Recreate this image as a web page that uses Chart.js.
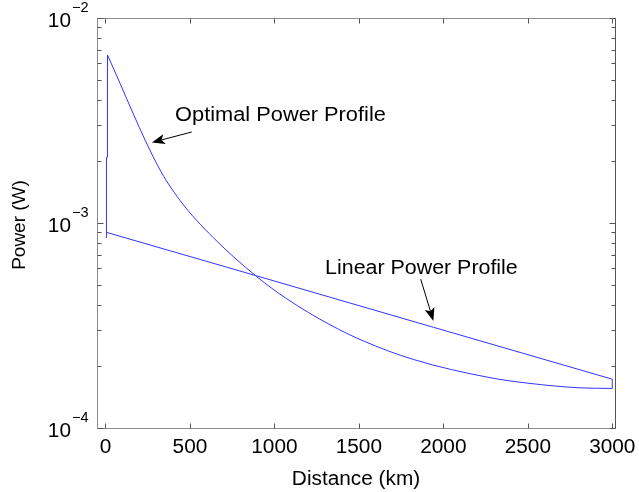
<!DOCTYPE html>
<html>
<head>
<meta charset="utf-8">
<script src="https://cdn.jsdelivr.net/npm/chart.js@4.4.1/dist/chart.umd.min.js"></script>
<style>
  body { margin: 0; background: #fff; }
  #chart { display: block; }
</style>
</head>
<body>
<canvas id="chart" width="639" height="492"></canvas>
<script>
// values (distance in km, power in W)
// optimal profile: launch steps at the start, then the smooth decay
var launch_dist = [6, 6, 12, 12];
var launch_power = [8.45e-4, 2.09e-3, 2.09e-3, 6.60e-3];

var optimal_dist = [12, 313, 441, 638, 895, 1073, 1329, 1526, 1822, 2276, 2513, 2809, 3000];
var optimal_power = [6.60e-3, 1.88e-3, 1.29e-3, 8.49e-4, 5.48e-4, 4.27e-4, 3.19e-4, 2.66e-4, 2.16e-4, 1.76e-4, 1.65e-4, 1.57e-4, 1.56e-4];

var end_dist = [3000, 3000];
var end_power = [1.56e-4, 1.73e-4];

var linear_dist = [7, 896, 1941, 3000];
var linear_power = [9.0e-4, 5.52e-4, 3.10e-4, 1.73e-4];

var x_ticks = [0, 500, 1000, 1500, 2000, 2500, 3000];
var y_decades = [-4, -3, -2];
var y_minor = [2, 3, 4, 5, 6, 7, 8, 9];

var FONT = '"Liberation Sans", Arial, Helvetica, sans-serif';
var LINE_BLUE = '#3333ff';

function toPoints(xs, ys) {
    var pts = [];
    for (var i = 0; i < xs.length; i++) {
        pts.push({ x: xs[i], y: ys[i] });
    }
    return pts;
}

function stretchedText(ctx, str, x, y, size, align, sx) {
    ctx.save();
    ctx.font = size + 'px ' + FONT;
    ctx.textAlign = align;
    ctx.textBaseline = 'alphabetic';
    ctx.translate(x, y);
    ctx.scale(sx || 1, 1);
    ctx.fillText(str, 0, 0);
    ctx.restore();
}

function arrow(ctx, x1, y1, x2, y2) {
    var ang = Math.atan2(y2 - y1, x2 - x1);
    var len = 13, half = 5, notch = 3;
    ctx.save();
    ctx.strokeStyle = '#000';
    ctx.fillStyle = '#000';
    ctx.lineWidth = 1;
    ctx.beginPath();
    ctx.moveTo(x1, y1);
    ctx.lineTo(x2 - Math.cos(ang) * (len - notch), y2 - Math.sin(ang) * (len - notch));
    ctx.stroke();
    ctx.translate(x2, y2);
    ctx.rotate(ang);
    ctx.beginPath();
    ctx.moveTo(0, 0);
    ctx.lineTo(-len, -half);
    ctx.lineTo(-len + notch, 0);
    ctx.lineTo(-len, half);
    ctx.closePath();
    ctx.fill();
    ctx.restore();
}

// labels with arrows, anchored in data coordinates
var notes = [
    { text: 'Optimal Power Profile', tx: 412, ty: 3.16e-3, ax: 511, ay: 2.78e-3, px: 275, py: 2.47e-3, sx: 1.09 },
    { text: 'Linear Power Profile', tx: 1300, ty: 5.67e-4, ax: 1866, ay: 5.32e-4, px: 1941, py: 3.33e-4, sx: 1.07 }
];

var axesPlugin = {
    id: 'matlabAxes',
    afterDraw: function (chart) {
        var ctx = chart.ctx;
        var a = chart.chartArea;
        var xs = chart.scales.x;
        var ys = chart.scales.y;
        var L = Math.round(a.left) + 0.5, R = Math.round(a.right) + 0.5;
        var T = Math.round(a.top) + 0.5, B = Math.round(a.bottom) + 0.5;

        ctx.save();
        ctx.lineWidth = 1;
        // box
        ctx.strokeStyle = '#8c8c8c';
        ctx.beginPath();
        ctx.moveTo(L, T); ctx.lineTo(L, B); ctx.lineTo(R, B);
        ctx.moveTo(L, T); ctx.lineTo(R, T);
        ctx.stroke();
        ctx.strokeStyle = '#555';
        ctx.beginPath();
        ctx.moveTo(R, T); ctx.lineTo(R, B);
        ctx.stroke();

        // x ticks (inward, bottom and top)
        ctx.strokeStyle = '#555';
        ctx.beginPath();
        x_ticks.forEach(function (v) {
            var px = Math.round(xs.getPixelForValue(v)) + 0.5;
            ctx.moveTo(px, B); ctx.lineTo(px, B - 5);
            ctx.moveTo(px, T); ctx.lineTo(px, T + 5);
        });
        // y ticks (inward, left and right)
        y_decades.forEach(function (d, i) {
            var py = Math.round(ys.getPixelForValue(Math.pow(10, d))) + 0.5;
            ctx.moveTo(L, py); ctx.lineTo(L + 6, py);
            ctx.moveTo(R, py); ctx.lineTo(R - 6, py);
            if (i < y_decades.length - 1) {
                y_minor.forEach(function (m) {
                    var pm = Math.round(ys.getPixelForValue(m * Math.pow(10, d))) + 0.5;
                    ctx.moveTo(L, pm); ctx.lineTo(L + 4, pm);
                    ctx.moveTo(R, pm); ctx.lineTo(R - 4, pm);
                });
            }
        });
        ctx.stroke();

        ctx.fillStyle = '#000';
        // x tick labels
        x_ticks.forEach(function (v) {
            stretchedText(ctx, String(v), xs.getPixelForValue(v), a.bottom + 25, 20, 'center', 1.04);
        });
        // y tick labels 10^d
        y_decades.forEach(function (d) {
            var py = ys.getPixelForValue(Math.pow(10, d));
            stretchedText(ctx, '10', a.left - 26, py + 8.5, 20, 'right', 1.04);
            stretchedText(ctx, '\u2212' + Math.abs(d), a.left - 25, py - 6.5, 14, 'left', 1.04);
        });

        // axis titles
        stretchedText(ctx, 'Distance (km)', (a.left + a.right) / 2, 485, 20, 'center', 1.04);
        ctx.save();
        ctx.translate(25, (a.top + a.bottom) / 2 + 2);
        ctx.rotate(-Math.PI / 2);
        ctx.font = '19px ' + FONT;
        ctx.textAlign = 'center';
        ctx.fillText('Power (W)', 0, 0);
        ctx.restore();

        // annotations
        notes.forEach(function (n) {
            stretchedText(ctx, n.text, xs.getPixelForValue(n.tx), ys.getPixelForValue(n.ty), 20, 'left', n.sx);
            arrow(ctx, xs.getPixelForValue(n.ax), ys.getPixelForValue(n.ay),
                  xs.getPixelForValue(n.px), ys.getPixelForValue(n.py));
        });
        ctx.restore();
    }
};

function series(label, xs, ys, smooth) {
    return {
        label: label,
        data: toPoints(xs, ys),
        borderColor: LINE_BLUE,
        borderWidth: 1,
        pointRadius: 0,
        cubicInterpolationMode: smooth ? 'monotone' : 'default',
        tension: smooth ? 0.4 : 0,
        fill: false
    };
}

var myChart = new Chart(document.getElementById('chart'), {
    type: 'line',
    data: {
        datasets: [
            series('Optimal launch', launch_dist, launch_power, false),
            series('Optimal Power Profile', optimal_dist, optimal_power, true),
            series('Optimal end', end_dist, end_power, false),
            series('Linear Power Profile', linear_dist, linear_power, false)
        ]
    },
    options: {
        responsive: false,
        animation: false,
        devicePixelRatio: 1,
        layout: { padding: { left: 97, right: 24, top: 18, bottom: 64 } },
        plugins: {
            legend: { display: false },
            tooltip: { enabled: false }
        },
        scales: {
            x: { type: 'linear', min: -50, max: 3016, display: false },
            y: { type: 'logarithmic', min: 1e-4, max: 1e-2, display: false }
        }
    },
    plugins: [axesPlugin]
});
</script>
</body>
</html>
